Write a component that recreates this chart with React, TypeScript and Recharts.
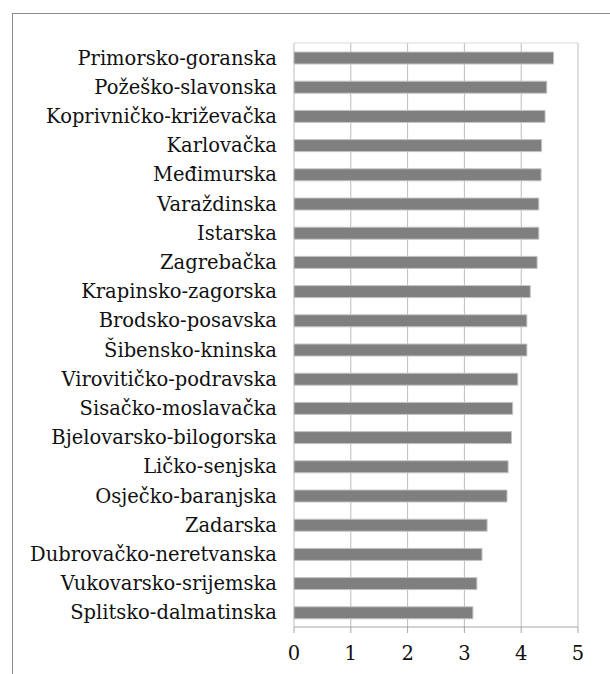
import { Bar, BarChart, CartesianGrid, XAxis, YAxis } from "recharts";

// counties, top to bottom
const counties = [
  "Primorsko-goranska",
  "Požeško-slavonska",
  "Koprivničko-križevačka",
  "Karlovačka",
  "Međimurska",
  "Varaždinska",
  "Istarska",
  "Zagrebačka",
  "Krapinsko-zagorska",
  "Brodsko-posavska",
  "Šibensko-kninska",
  "Virovitičko-podravska",
  "Sisačko-moslavačka",
  "Bjelovarsko-bilogorska",
  "Ličko-senjska",
  "Osječko-baranjska",
  "Zadarska",
  "Dubrovačko-neretvanska",
  "Vukovarsko-srijemska",
  "Splitsko-dalmatinska",
];

const scores = [
  4.57, 4.45, 4.42, 4.36, 4.35, 4.31, 4.31, 4.28, 4.16, 4.1, 4.1, 3.94, 3.85,
  3.83, 3.77, 3.75, 3.4, 3.31, 3.22, 3.15,
];

const xTicks = [0, 1, 2, 3, 4, 5];
// category boundaries for the little tick marks on the vertical axis
const boundaryTicks = Array.from({ length: counties.length + 1 }, (_, i) => i);

const data = counties.map((name, i) => ({ name, value: scores[i] }));

export default function App() {
  return (
    <div
      style={{
        position: "absolute",
        left: 0,
        top: 0,
        width: 610,
        height: 674,
        overflow: "hidden",
        background: "#fff",
        fontFamily: '"DejaVu Serif", serif',
      }}
    >
      <div
        style={{
          position: "absolute",
          left: 12,
          top: 13,
          width: 800,
          height: 800,
          border: "1px solid #8a8a8a",
        }}
      />
      <BarChart
        width={610}
        height={674}
        data={data}
        layout="vertical"
        margin={{ top: 43, right: 32, bottom: 0, left: 14 }}
        barSize={12}
        style={{ position: "absolute", left: 0, top: 0 }}
      >
        <CartesianGrid vertical horizontal={false} stroke="#bdbdbd" />
        <CartesianGrid
          vertical={false}
          horizontal
          horizontalPoints={[43]}
          stroke="#d9d9d9"
        />
        <XAxis
          type="number"
          domain={[0, 5]}
          ticks={xTicks}
          height={47}
          stroke="#a6a6a6"
          tickSize={6}
          tickMargin={13}
          tick={{ fill: "#111", fontSize: 19.5 }}
        />
        <YAxis
          yAxisId="bounds"
          type="number"
          domain={[0, 20]}
          ticks={boundaryTicks}
          width={0}
          tick={false}
          tickSize={6}
          stroke="#a6a6a6"
        />
        <YAxis
          type="category"
          dataKey="name"
          width={280}
          axisLine={false}
          tickLine={false}
          tickSize={6}
          tickMargin={11}
          interval={0}
          tick={{ fill: "#111", fontSize: 19.5 }}
        />
        <Bar
          dataKey="value"
          fill="#7f7f7f"
          stroke="#c4c4c4"
          strokeWidth={1}
          isAnimationActive={false}
        />
      </BarChart>
    </div>
  );
}
